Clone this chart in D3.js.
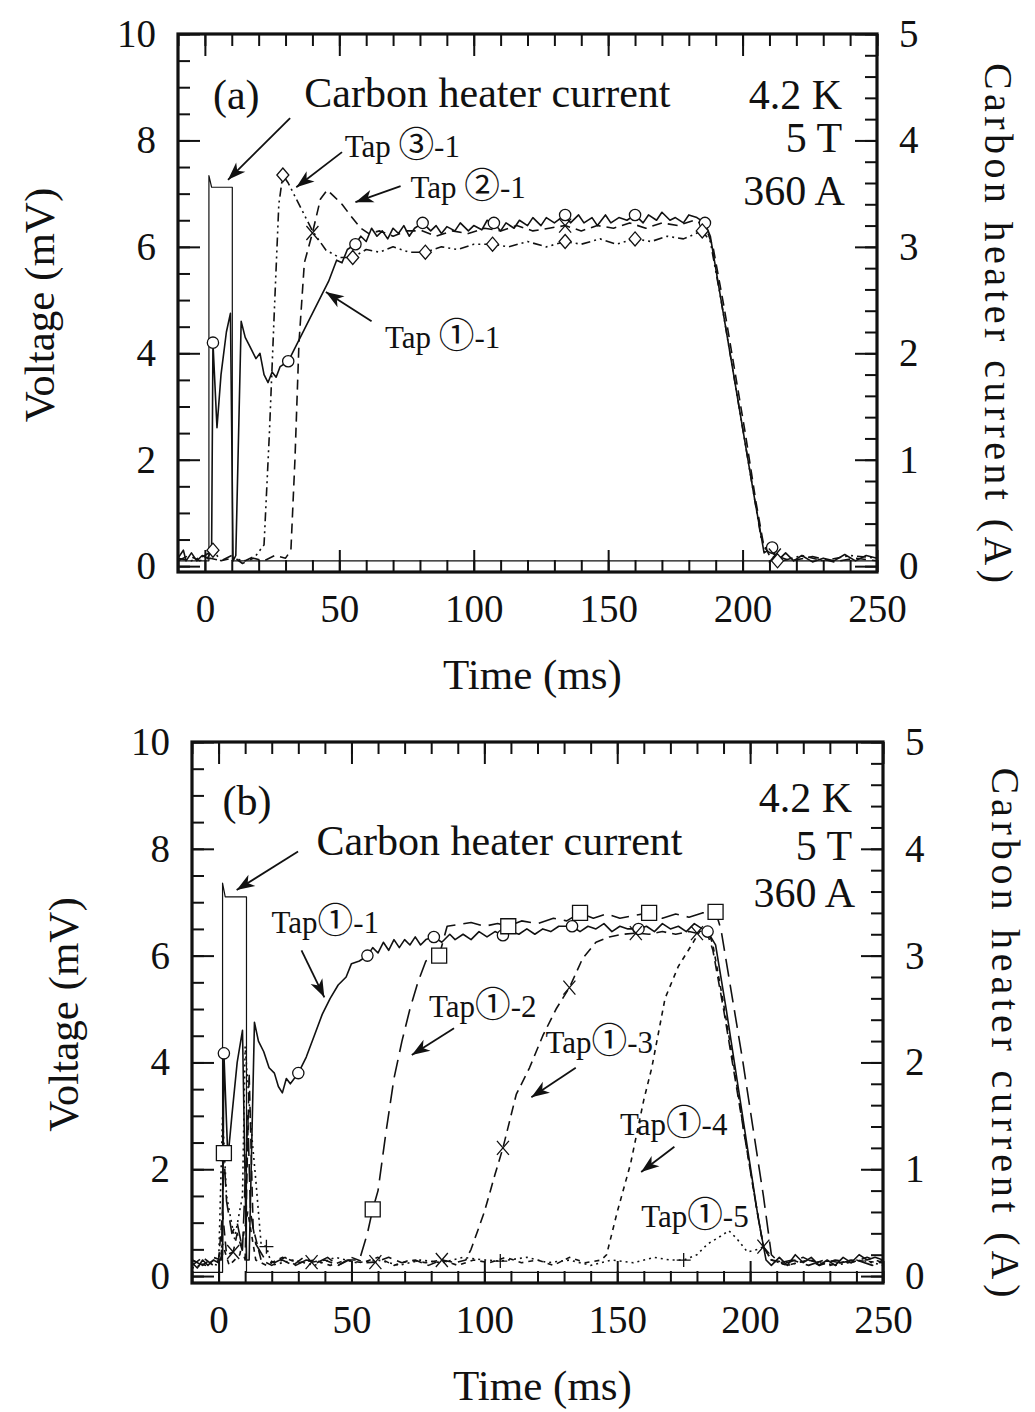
<!DOCTYPE html>
<html>
<head>
<meta charset="utf-8">
<script src="https://cdn.jsdelivr.net/npm/d3@7"></script>
<style>
  body { margin: 0; background: #fff; }
  svg text { font-family: "Liberation Serif", "Times New Roman", serif; fill: #111; }
</style>
</head>
<body>
<svg id="chart" width="1035" height="1412"></svg>
<script>
// ---- panel (a) data: [time ms, voltage mV] ----
const tapA1 = [[-10,0.15],[-8,0.3],[-7,0.1],[-5,0.25],[-3,0.1],[-1,0.2],[1,0.15],[2.5,0.3],[3,4.2],[4.5,2.6],[6,3.6],[8,4.4],[9.5,4.75],[10.5,0.1],[11.5,0.2],[13.5,4.6],[15,4.3],[17,4.1],[19,3.9],[20.5,4.0],[22,3.6],[23.5,3.45],[25,3.65],[26.5,3.55],[28,3.75],[31,3.85],[34,4.15],[37,4.45],[40,4.75],[43,5.05],[46,5.35],[49,5.75],[51,5.7],[53,5.95],[56,6.05],[58,6.2],[60,6.1],[62,6.35],[64,6.2],[66,6.3],[68,6.15],[70,6.35],[72,6.25],[74,6.4],[76,6.2],[78,6.35],[81,6.45],[84,6.3],[86,6.4],[88,6.25],[90,6.38],[93,6.3],[95,6.45],[98,6.3],[100,6.4],[103,6.32],[105,6.5],[107.5,6.45],[110,6.3],[112,6.45],[115,6.35],[117,6.5],[120,6.4],[122,6.55],[125,6.4],[127,6.55],[130,6.45],[134,6.6],[136,6.45],[139,6.6],[141,6.45],[144,6.55],[146,6.4],[149,6.6],[151,6.45],[154,6.55],[157,6.5],[160,6.6],[163,6.45],[165,6.6],[168,6.5],[170,6.65],[173,6.5],[175,6.55],[178,6.45],[180,6.6],[183,6.55],[186,6.45],[188,6.2],[192,5.0],[196,3.8],[200,2.6],[204,1.4],[208,0.25],[211,0.35],[213,0.1],[216,0.25],[219,0.1],[222,0.2],[226,0.08],[230,0.15],[234,0.1],[238,0.22],[242,0.1],[246,0.2],[250,0.15]];
const tapA2 = [[-10,0.1],[-6,0.2],[-2,0.1],[2,0.15],[6,0.1],[10,0.2],[14,0.05],[18,0.15],[22,0.1],[26,0.2],[30,0.15],[32,0.3],[33.5,2.0],[35,4.2],[37,5.7],[40,6.26],[43,6.9],[45.5,7.07],[48,6.95],[51,6.8],[54,6.6],[58,6.35],[61,6.25],[65,6.3],[70,6.2],[75,6.3],[81,6.3],[86,6.2],[92,6.3],[98,6.25],[104,6.35],[110,6.3],[116,6.4],[122,6.3],[128,6.35],[134,6.4],[140,6.3],[146,6.4],[152,6.35],[158,6.45],[164,6.35],[170,6.45],[176,6.4],[182,6.5],[186,6.4],[189,6.0],[193,4.9],[197,3.7],[201,2.5],[205,1.2],[208,0.35],[212,0.2],[218,0.1],[226,0.18],[234,0.08],[242,0.15],[250,0.1]];
const tapA3 = [[-10,0.15],[-5,0.1],[0,0.2],[3,0.3],[6,0.1],[10,0.15],[15,0.1],[19,0.2],[22,0.4],[24,2.5],[26,5.0],[27.5,6.8],[29,7.35],[31,7.2],[34,6.9],[37,6.6],[40,6.3],[45,5.94],[50,5.8],[55,5.8],[60,5.95],[65,5.9],[70,6.0],[76,5.9],[82,5.9],[88,6.0],[94,5.95],[100,6.05],[107,6.05],[113,6.0],[120,6.1],[127,6.0],[134,6.1],[140,6.05],[147,6.15],[153,6.05],[160,6.15],[166,6.1],[172,6.2],[178,6.15],[185,6.3],[188,6.1],[192,5.0],[196,3.8],[200,2.6],[204,1.4],[207,0.5],[210,0.2],[215,0.1],[222,0.2],[230,0.1],[240,0.2],[250,0.15]];
const heaterA = [[-10,0.05],[1.5,0.05],[1.5,3.67],[2.5,3.56],[10.2,3.56],[10.2,0.05],[250,0.05]]; // A
const circlesA1 = [[3,4.2],[31,3.85],[56,6.05],[81,6.45],[107.5,6.45],[134,6.6],[160,6.6],[186,6.45],[211,0.35]];
const crossesA2 = [[40,6.26],[134,6.4],[212,0.2]];
const diamondsA3 = [[3,0.3],[29,7.35],[55,5.8],[82,5.9],[107,6.05],[134,6.1],[160,6.15],[185,6.3],[213,0.1]];

// ---- panel (b) data ----
const tapB1 = [[-10,0.25],[-8,0.15],[-6,0.3],[-4,0.2],[-2,0.3],[0,0.25],[1.5,0.4],[2,4.17],[3.5,2.2],[5,3.0],[7,4.0],[9,4.6],[10.5,0.3],[11.5,0.3],[13.5,4.75],[15,4.4],[17,4.2],[19,3.9],[21,3.8],[22.5,3.55],[24,3.43],[25.5,3.7],[27,3.6],[30,3.8],[33,4.1],[36,4.5],[39,4.9],[42,5.2],[45,5.45],[48,5.6],[50,5.85],[53,5.9],[56,6.0],[58,6.15],[60,6.05],[62,6.25],[64,6.1],[66,6.3],[68,6.15],[70,6.3],[72,6.2],[74,6.35],[76,6.2],[78,6.3],[81,6.35],[84,6.25],[87,6.4],[89,6.3],[92,6.4],[95,6.3],[98,6.45],[101,6.35],[104,6.45],[107,6.38],[110,6.45],[113,6.4],[116,6.5],[119,6.4],[122,6.5],[125,6.45],[128,6.55],[133,6.55],[136,6.45],[139,6.55],[142,6.5],[145,6.6],[148,6.45],[151,6.55],[154,6.5],[158,6.5],[161,6.55],[164,6.45],[167,6.6],[170,6.5],[173,6.55],[176,6.45],[179,6.6],[182,6.5],[184,6.45],[187,6.2],[191,5.0],[195,3.7],[199,2.4],[203,1.1],[206,0.3],[208,0.2],[211,0.35],[214,0.2],[217,0.4],[220,0.25],[223,0.35],[226,0.2],[229,0.3],[232,0.2],[235,0.35],[238,0.25],[241,0.4],[244,0.3],[247,0.35],[250,0.3]];
const tapB2 = [[-10,0.3],[-6,0.2],[-2,0.35],[1,0.3],[2,2.3],[3,1.4],[5,0.8],[7,1.0],[9,0.5],[11,3.0],[12,1.2],[14,0.6],[17,0.35],[21,0.25],[25,0.35],[29,0.2],[33,0.3],[37,0.25],[41,0.35],[45,0.2],[49,0.3],[53,0.3],[56,0.8],[58,1.25],[60,1.6],[63,2.7],[66,3.7],[69,4.4],[72,5.0],[75,5.5],[78,5.9],[83,6.0],[86,6.55],[90,6.58],[95,6.62],[100,6.55],[105,6.6],[109,6.55],[114,6.65],[120,6.6],[126,6.7],[131,6.65],[136,6.8],[141,6.7],[146,6.78],[151,6.7],[156,6.75],[162,6.8],[167,6.7],[172,6.78],[177,6.72],[182,6.8],[187,6.82],[189,6.5],[193,5.3],[197,4.1],[201,2.8],[205,1.5],[208,0.4],[211,0.25],[216,0.3],[222,0.2],[228,0.3],[234,0.25],[240,0.3],[246,0.2],[250,0.3]];
const tapB3 = [[-10,0.2],[-6,0.35],[-2,0.2],[0,0.3],[1.5,1.2],[3,0.4],[5.5,0.45],[7,0.8],[10,0.3],[11.5,3.8],[13,0.9],[16,0.3],[20,0.2],[24,0.3],[28,0.2],[32,0.35],[35,0.26],[40,0.3],[45,0.2],[50,0.35],[55,0.25],[59,0.26],[64,0.35],[69,0.25],[74,0.3],[79,0.2],[84,0.3],[89,0.25],[93,0.3],[95,0.5],[100,1.2],[104,1.9],[107,2.4],[112,3.4],[117,3.9],[122,4.5],[127,5.0],[132,5.4],[137,5.95],[142,6.25],[147,6.35],[152,6.4],[157,6.42],[162,6.4],[167,6.45],[172,6.4],[177,6.45],[180,6.42],[184,6.4],[186,6.1],[190,5.0],[194,3.8],[198,2.6],[202,1.4],[205,0.55],[208,0.3],[214,0.25],[220,0.35],[226,0.2],[232,0.3],[238,0.25],[244,0.35],[250,0.25]];
const tapB4 = [[-10,0.3],[-5,0.2],[0,0.35],[1.5,0.6],[4,0.2],[8,0.4],[11,1.2],[14,0.3],[18,0.2],[24,0.35],[30,0.25],[36,0.3],[42,0.2],[48,0.3],[54,0.25],[60,0.35],[66,0.2],[72,0.3],[78,0.25],[84,0.3],[90,0.2],[96,0.3],[102,0.25],[108,0.35],[114,0.25],[120,0.3],[126,0.2],[132,0.35],[138,0.25],[144,0.3],[146,0.4],[150,1.2],[155,2.1],[160,3.3],[163,3.9],[168,5.2],[173,5.8],[178,6.2],[181,6.45],[184,6.5],[186,6.2],[190,5.1],[194,3.9],[198,2.6],[202,1.4],[205,0.55],[208,0.3],[214,0.2],[222,0.3],[230,0.2],[238,0.3],[250,0.25]];
const tapB5 = [[-10,0.15],[-4,0.25],[0,0.2],[1.5,3.0],[3,1.5],[6,0.7],[9,1.5],[10,4.3],[12,2.9],[14,1.8],[16,0.6],[18,0.55],[20,0.2],[28,0.3],[36,0.2],[44,0.35],[52,0.25],[60,0.3],[68,0.2],[76,0.3],[84,0.25],[92,0.35],[100,0.3],[106,0.28],[116,0.35],[124,0.25],[132,0.3],[140,0.2],[148,0.3],[156,0.25],[164,0.35],[170,0.3],[175,0.3],[180,0.4],[184,0.6],[189,0.75],[192,0.85],[195,0.7],[199,0.45],[203,0.5],[205,0.55],[208,0.3],[214,0.2],[222,0.3],[232,0.2],[242,0.3],[250,0.2]];
const heaterB = [[-10,0.035],[1.5,0.035],[1.5,3.68],[2.5,3.55],[10.5,3.55],[10.5,0.035],[250,0.035]]; // A
const circlesB1 = [[2,4.17],[30,3.8],[56,6.0],[81,6.35],[107,6.38],[133,6.55],[158,6.5],[184,6.45]];
const squaresB2 = [[2,2.3],[58,1.25],[83,6.0],[109,6.55],[136,6.8],[162,6.8],[187,6.82]];
const crossesB3 = [[5.5,0.45],[35,0.26],[59,0.26],[84,0.3],[107,2.4],[132,5.4],[157,6.42],[180,6.42]];
const crossesB4 = [[205,0.55]];
const plusB5 = [[18,0.55],[106,0.28],[175,0.3]];

// ---- axis ticks ----
const timeMajor = [0, 50, 100, 150, 200, 250];
const timeMinor = d3.range(-10, 251, 10);
const voltMajor = [0, 2, 4, 6, 8, 10];
const voltMinor = d3.range(0, 10.01, 0.5);
const ampMajor = [0, 1, 2, 3, 4, 5];
const ampMinor = d3.range(0, 5.01, 0.2);

const svg = d3.select("#chart");

svg.append("defs").append("marker")
    .attr("id", "arrow")
    .attr("markerUnits", "userSpaceOnUse")
    .attr("markerWidth", 24).attr("markerHeight", 16)
    .attr("refX", 18).attr("refY", 0)
    .attr("viewBox", "-2 -8 22 16")
    .attr("orient", "auto")
  .append("path")
    .attr("d", "M0,-6.5L18,0L0,6.5L5,0Z")
    .attr("fill", "#111");

function drawMarker(g, type, px, py) {
  const s = g.append("path").attr("transform", `translate(${px},${py})`)
    .attr("fill", "#fff").attr("stroke", "#111").attr("stroke-width", 1.3);
  if (type === "circle") s.attr("d", d3.symbol(d3.symbolCircle, 100)());
  if (type === "square") s.attr("d", "M-7.5,-7.5H7.5V7.5H-7.5Z");
  if (type === "diamond") s.attr("d", "M0,-7L6,0L0,7L-6,0Z");
  if (type === "cross") s.attr("fill", "none").attr("d", "M-6,-7L6,7M-6,7L6,-7");
  if (type === "plus") s.attr("fill", "none").attr("d", "M-7,0H7M0,-7V7");
}

function drawPanel(p) {
  const x = d3.scaleLinear().domain([-10, 250]).range([p.left, p.right]);
  const y = d3.scaleLinear().domain(p.yDomain).range([p.bottom, p.top]);
  const yR = d3.scaleLinear().domain([p.yDomain[0] / 2, 5]).range([p.bottom, p.top]);
  const g = svg.append("g");

  // inward ticks on all four sides
  const axes = [
    [() => d3.axisBottom(x), `translate(0,${p.bottom})`, timeMinor, timeMajor, true],
    [() => d3.axisTop(x), `translate(0,${p.top})`, timeMinor, timeMajor, false],
    [() => d3.axisLeft(y), `translate(${p.left},0)`, voltMinor, voltMajor, true],
    [() => d3.axisRight(yR), `translate(${p.right},0)`, ampMinor, ampMajor, true]
  ];
  axes.forEach(([mk, tr, minor, major, labels]) => {
    g.append("g").attr("transform", tr)
      .call(mk().tickValues(minor).tickSize(-12).tickFormat(""))
      .call(a => a.select(".domain").remove());
    const m = g.append("g").attr("transform", tr)
      .call(mk().tickValues(major).tickSize(-22).tickPadding(p.pad)
        .tickFormat(labels ? d3.format("d") : ""))
      .call(a => a.select(".domain").remove());
    m.attr("font-family", null).attr("font-size", null);
    m.selectAll("text").attr("font-size", 39).attr("fill", "#111");
  });
  g.selectAll(".tick line").attr("stroke", "#111").attr("stroke-width", 2);

  g.append("rect")
    .attr("x", p.left).attr("y", p.top)
    .attr("width", p.right - p.left).attr("height", p.bottom - p.top)
    .attr("fill", "none").attr("stroke", "#111").attr("stroke-width", 3.2);

  // series
  const line = sc => d3.line().x(d => x(d[0])).y(d => sc(d[1]));
  p.series.forEach(s => {
    g.append("path").datum(s.data)
      .attr("d", line(s.right ? yR : y))
      .attr("fill", "none").attr("stroke", "#111")
      .attr("stroke-width", s.width || 1.6)
      .attr("stroke-dasharray", s.dash || null)
      .attr("stroke-linejoin", "round");
  });
  p.markers.forEach(mk => {
    mk.data.forEach(d => drawMarker(g, mk.type, x(d[0]), y(d[1])));
  });

  // annotations; circled tap numbers in a CJK font (thin ring) and a bit larger
  p.notes.forEach(n => {
    const t = g.append("text")
      .attr("x", x(n.t)).attr("y", y(n.v))
      .attr("font-size", n.size || 42)
      .attr("text-anchor", n.anchor || "start");
    n.s.split(/([①②③])/).forEach((part, i) => {
      if (!part) return;
      const ts = t.append("tspan").text(part);
      if (i % 2 === 1) ts.attr("font-size", (n.size || 42) * 1.15)
        .style("font-family", '"Noto Sans CJK JP", "Noto Sans CJK SC", sans-serif');
    });
  });
  p.arrows.forEach(a => {
    g.append("line")
      .attr("x1", x(a.from[0])).attr("y1", y(a.from[1]))
      .attr("x2", x(a.to[0])).attr("y2", y(a.to[1]))
      .attr("stroke", "#111").attr("stroke-width", 1.8)
      .attr("marker-end", "url(#arrow)");
  });

  // axis titles
  g.append("text").attr("font-size", 43).attr("text-anchor", "middle")
    .attr("x", (p.left + p.right) / 2 + 5).attr("y", p.bottom + 117)
    .text("Time (ms)");
  g.append("text").attr("font-size", 43).attr("text-anchor", "middle")
    .attr("transform", `translate(${p.leftTitle},${(p.top + p.bottom) / 2 + 2}) rotate(-90)`)
    .text("Voltage (mV)");
  g.append("text").attr("font-size", 40).attr("text-anchor", "middle")
    .attr("textLength", p.rightLen).attr("lengthAdjust", "spacing")
    .attr("transform", `translate(${p.rightTitle},${(p.top + p.bottom) / 2 + p.rightShift}) rotate(90)`)
    .text("Carbon heater current (A)");
}

drawPanel({
  left: 178, right: 877, top: 34, bottom: 572, yDomain: [-0.11, 10], pad: 22,
  leftTitle: 54, rightTitle: 985, rightLen: 520, rightShift: 20,
  series: [
    { data: heaterA, right: true, width: 1.2 },
    { data: tapA1 },
    { data: tapA2, dash: "10,6" },
    { data: tapA3, dash: "9,4,2,4,2,4" }
  ],
  markers: [
    { type: "circle", data: circlesA1 },
    { type: "cross", data: crossesA2 },
    { type: "diamond", data: diamondsA3 }
  ],
  notes: [
    { s: "(a)", t: 3, v: 8.6 },
    { s: "Carbon heater current", t: 37, v: 8.62 },
    { s: "4.2 K", t: 237, v: 8.6, anchor: "end" },
    { s: "5 T", t: 237, v: 7.78, anchor: "end" },
    { s: "360 A", t: 238, v: 6.79, anchor: "end" },
    { s: "Tap ③-1", t: 52, v: 7.68, size: 31 },
    { s: "Tap ②-1", t: 76.5, v: 6.92, size: 31 },
    { s: "Tap ①-1", t: 67, v: 4.1, size: 31 }
  ],
  arrows: [
    { from: [31.7, 8.42], to: [8.6, 7.26] },
    { from: [51, 7.78], to: [34, 7.12] },
    { from: [72.8, 7.14], to: [56, 6.84] },
    { from: [62, 4.6], to: [45, 5.15] }
  ]
});

drawPanel({
  left: 192, right: 883, top: 742, bottom: 1283, yDomain: [-0.13, 10], pad: 22,
  leftTitle: 78, rightTitle: 992, rightLen: 530, rightShift: 20,
  series: [
    { data: heaterB, right: true, width: 1.2 },
    { data: tapB1 },
    { data: tapB2, dash: "18,8" },
    { data: tapB3, dash: "10,6" },
    { data: tapB4, dash: "5,5" },
    { data: tapB5, dash: "2,4" }
  ],
  markers: [
    { type: "circle", data: circlesB1 },
    { type: "square", data: squaresB2 },
    { type: "cross", data: crossesB3 },
    { type: "cross", data: crossesB4 },
    { type: "plus", data: plusB5 }
  ],
  notes: [
    { s: "(b)", t: 1.5, v: 8.63 },
    { s: "Carbon heater current", t: 36.8, v: 7.88 },
    { s: "4.2 K", t: 238.4, v: 8.69, anchor: "end" },
    { s: "5 T", t: 238.4, v: 7.79, anchor: "end" },
    { s: "360 A", t: 239.5, v: 6.91, anchor: "end" },
    { s: "Tap①-1", t: 19.9, v: 6.42, size: 31 },
    { s: "Tap①-2", t: 79.2, v: 4.85, size: 31 },
    { s: "Tap①-3", t: 123, v: 4.17, size: 31 },
    { s: "Tap①-4", t: 151, v: 2.64, size: 31 },
    { s: "Tap①-5", t: 159, v: 0.92, size: 31 }
  ],
  arrows: [
    { from: [29.9, 7.95], to: [6.8, 7.23] },
    { from: [31.2, 6.1], to: [39.8, 5.22] },
    { from: [88.6, 4.64], to: [72.7, 4.14] },
    { from: [134.4, 3.9], to: [117.7, 3.35] },
    { from: [171.5, 2.42], to: [159, 1.95] }
  ]
});
</script>
</body>
</html>
